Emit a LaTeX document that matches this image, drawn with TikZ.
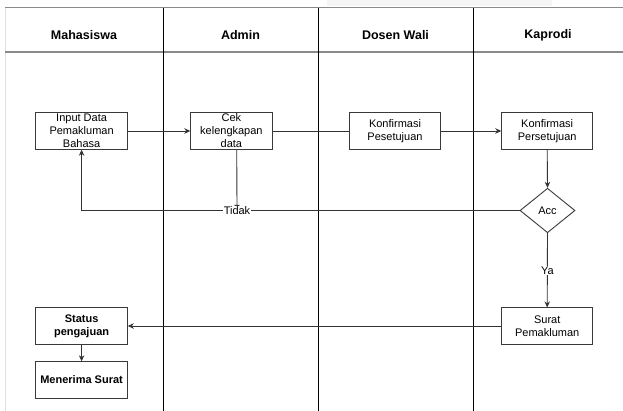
\documentclass[tikz,border=0pt]{standalone}
\usepackage{fontspec}
\setmainfont{Liberation Sans}
\usetikzlibrary{arrows.meta,shapes.geometric}
\definecolor{edgec}{HTML}{333333}
\definecolor{boxc}{HTML}{3A3A3A}
\definecolor{hdrc}{HTML}{8A8A8A}
\begin{document}
\begin{tikzpicture}[x=1pt,y=-1pt,
  proc/.style={draw=boxc,line width=0.9pt,rectangle,fill=white,inner sep=0pt,
    minimum width=91.5pt,minimum height=36.6pt,align=center,
    font=\fontsize{11}{13}\selectfont},
  dec/.style={draw=boxc,line width=0.9pt,diamond,fill=white,inner sep=0pt,
    minimum width=55pt,minimum height=44.5pt,font=\fontsize{11}{13}\selectfont},
  conn/.style={draw=edgec,line width=0.9pt},
  arr/.style={conn,-{Stealth[length=6pt,width=5.5pt]}},
  lbl/.style={fill=white,inner sep=0.5pt,font=\fontsize{11}{13}\selectfont},
  hdr/.style={font=\bfseries\fontsize{12.5}{14}\selectfont},
  lane/.style={draw=black,line width=1pt}]
\useasboundingbox (0,0) rectangle (623,411);
\fill[white] (0,0) rectangle (623,411);
% faint artifacts
\fill[black!4] (327,0) rectangle (552,6);
\draw[black!12,line width=0.8pt] (5,8) -- (5,411);
% header lines
\draw[hdrc,line width=1pt] (5,8) -- (623,8);
\draw[hdrc,line width=1.6pt] (5,52) -- (623,52);
% lanes
\draw[lane] (163,8) -- (163,411);
\draw[lane] (318,8) -- (318,411);
\draw[lane] (473,8) -- (473,411);
% headers
\node[hdr] (h1) at (84,35) {Mahasiswa};
\node[hdr] (h2) at (240.5,35) {Admin};
\node[hdr] (h3) at (395.5,35) {Dosen Wali};
\node[hdr] (h4) at (548,35) {Kaprodi};
% nodes
\node[proc] (in) at (81.6,131) {Input Data\\Pemakluman\\Bahasa};
\node[proc,minimum width=81.3pt] (cek) at (231.4,131) {Cek\\kelengkapan\\data};
\node[proc,minimum width=91.4pt] (kp1) at (395,131) {Konfirmasi\\Pesetujuan};
\node[proc,minimum width=91pt] (kp2) at (547.2,131) {Konfirmasi\\Persetujuan};
\node[dec] (acc) at (547.5,210.5) {Acc};
\node[proc,minimum width=91pt,minimum height=36.3pt] (surat) at (547.2,326) {Surat\\Pemakluman};
\node[proc,minimum height=36.3pt,font=\bfseries\fontsize{11}{13}\selectfont] (status) at (81.6,326) {Status\\pengajuan};
\node[proc,font=\bfseries\fontsize{11}{13}\selectfont] (terima) at (81.6,380) {Menerima Surat};
% connectors
\draw[arr] (in.east) -- (cek.west);
\draw[conn] (cek.east) -- (kp1.west);
\draw[arr] (kp1.east) -- (kp2.west);
\draw[arr] (kp2.south) -- (acc.north);
\coordinate (tk) at (81.6,210.5);
\draw[arr] (acc.west) -- (tk) -- (in.south);
\node[lbl] (tidak) at (237,210.5) {Tidak};
\coordinate (ctop) at (236.7,149.3);
\draw[conn,-{Bar[width=5pt]}] (ctop) -- (tidak.north);
\draw[arr] (acc.south) -- (surat.north) node[lbl,pos=0.5] (ya) {Ya};
\draw[arr] (surat.west) -- (status.east);
\draw[arr] (status.south) -- (terima.north);
\end{tikzpicture}
\end{document}
